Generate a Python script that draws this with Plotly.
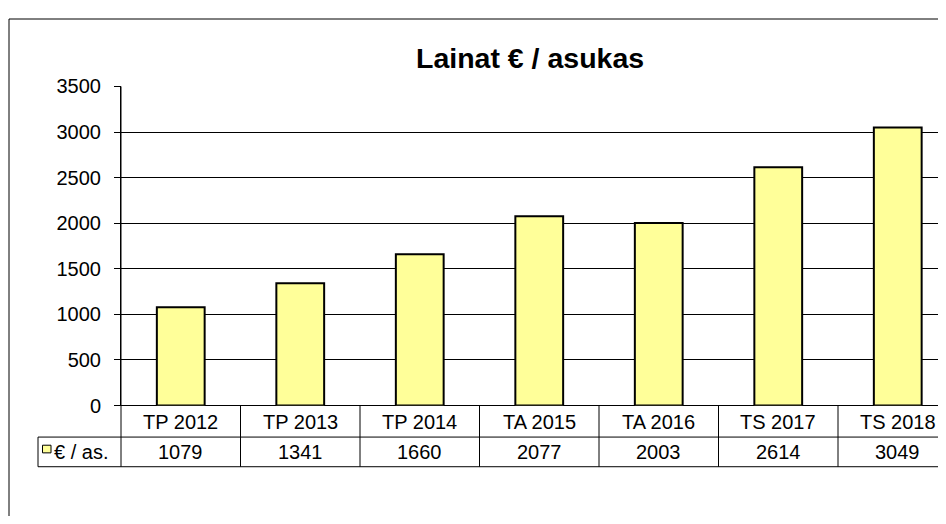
import plotly.graph_objects as go

categories = ["TP 2012", "TP 2013", "TP 2014", "TA 2015", "TA 2016", "TS 2017", "TS 2018"]
values = [1079, 1341, 1660, 2077, 2003, 2614, 3049]
series_name = "€ / as."
title_text = "Lainat € / asukas"
y_ticks = [0, 500, 1000, 1500, 2000, 2500, 3000, 3500]

OFF = 8  # page body margin
W, H = 946 - 2 * OFF, 524 - 2 * OFF
FONT = "Liberation Sans, Arial, sans-serif"


def px(x):
    return (x - OFF) / W


def py(y):
    return 1 - (y - OFF) / H


x_left = 121
cat_w = 119.5
y_top, y_zero = 78.5, 412
row1, row2 = 445, 476

fig = go.Figure()
fig.add_trace(go.Bar(
    x=list(range(len(categories))), y=values, width=0.4,
    marker=dict(color="#FFFF99", line=dict(color="black", width=2)),
    name=series_name, showlegend=False, hoverinfo="skip",
))

shapes = []
# outer chart border
shapes.append(dict(type="rect", xref="paper", yref="paper", x0=px(9), x1=1.05, y0=-0.05, y1=py(8),
                   line=dict(color="black", width=1)))
# y axis line extended through the data table
shapes.append(dict(type="line", xref="paper", yref="paper", x0=px(x_left), x1=px(x_left), y0=py(row2), y1=py(y_top),
                   line=dict(color="black", width=1)))
# data table vertical separators
for k in range(1, len(categories) + 1):
    shapes.append(dict(type="line", xref="x", yref="paper", x0=k - 0.5, x1=k - 0.5, y0=py(row2), y1=py(y_zero),
                       line=dict(color="black", width=1)))
# data table horizontal lines
for yy in (row1, row2):
    shapes.append(dict(type="line", xref="paper", yref="paper", x0=px(38), x1=1, y0=py(yy), y1=py(yy),
                       line=dict(color="black", width=1)))
# legend cell left border
shapes.append(dict(type="line", xref="paper", yref="paper", x0=px(38), x1=px(38), y0=py(row2), y1=py(row1),
                   line=dict(color="black", width=1)))
# legend key
shapes.append(dict(type="rect", xref="paper", yref="paper", x0=px(42.5), x1=px(51), y0=py(461.5), y1=py(453.5),
                   fillcolor="#FFFF99", line=dict(color="black", width=1)))

tf = dict(family=FONT, size=20, color="black")
annotations = []
for i, (c, v) in enumerate(zip(categories, values)):
    annotations.append(dict(x=i, y=py(429), xref="x", yref="paper", text=c, showarrow=False,
                            font=tf, xanchor="center", yanchor="middle"))
    annotations.append(dict(x=i, y=py(460.5), xref="x", yref="paper", text=str(v), showarrow=False,
                            font=tf, xanchor="center", yanchor="middle"))
annotations.append(dict(x=px(51.5), y=py(460.5), xref="paper", yref="paper", text=series_name,
                        showarrow=False, font=tf, xanchor="left", yanchor="middle"))
annotations.append(dict(x=px(529.5), y=py(48.5), xref="paper", yref="paper", text="<b>" + title_text + "</b>",
                        showarrow=False, font=dict(family=FONT, size=28.5, color="black"),
                        xanchor="center", yanchor="middle"))

fig.update_layout(
    width=W, height=H, margin=dict(l=0, r=0, t=0, b=0),
    paper_bgcolor="white", plot_bgcolor="white",
    shapes=shapes, annotations=annotations,
    xaxis=dict(domain=[px(x_left), 1], range=[-0.5, -0.5 + (W + OFF - x_left) / cat_w],
               showticklabels=False, showgrid=False, zeroline=False,
               showline=False, ticks=""),
    yaxis=dict(domain=[py(y_zero), py(y_top)], range=[0, 3500], tickvals=y_ticks,
               showgrid=True, gridcolor="black", gridwidth=1, zeroline=True, zerolinecolor="black",
               zerolinewidth=1, showline=True, linecolor="black", linewidth=1,
               ticks="outside", ticklen=6, tickcolor="black", tickwidth=1,
               ticklabelstandoff=9, tickfont=tf),
    bargap=0.6,
    font=dict(family=FONT),
)

fig.write_html("out.html")
